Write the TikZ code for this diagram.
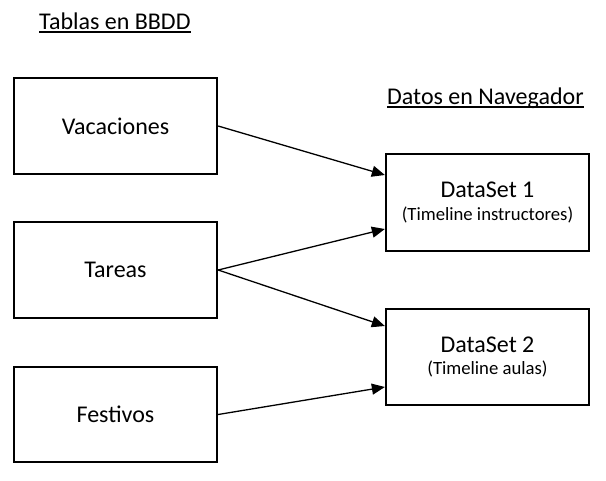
\documentclass[tikz,border=0pt]{standalone}
\usepackage{fontspec}
\setmainfont{Carlito}
\usetikzlibrary{arrows.meta,calc}
\newcommand\myul[1]{\setbox0\hbox{#1}\rlap{\rule[-3.5pt]{\wd0}{1.3pt}}\box0}
\begin{document}
\begin{tikzpicture}[x=1pt,y=-1pt,
  tbl/.style={draw=black,line width=2.3pt,minimum width=203pt,inner sep=0pt,align=center,font=\fontsize{24}{24}\selectfont},
  conn/.style={line width=1.3pt,-{Triangle[length=13pt,width=11pt]}},
  ttl/.style={font=\fontsize{24}{24}\selectfont,inner sep=0pt,anchor=base west}]
\useasboundingbox (0,0) rectangle (606,480);
\node[ttl] (t1) at (39,29) {\myul{Tablas en BBDD}};
\node[ttl] (t2) at (387,104) {\myul{Datos en Navegador}};
\node[tbl,minimum height=96pt] (vac) at (115.5,126) {Vacaciones};
\node[tbl,minimum height=96pt] (tar) at (115.5,270) {Tareas};
\node[tbl,minimum height=95pt] (fes) at (115.5,414.5) {Festivos};
\node[tbl,minimum height=97pt] (d1) at (487.5,202.5) {DataSet 1\\[-1pt]{\fontsize{18.7}{20}\selectfont (Timeline instructores)}};
\node[tbl,minimum height=96pt] (d2) at (487.5,357) {DataSet 2\\[-2pt]{\fontsize{18.7}{20}\selectfont (Timeline aulas)}};
\draw[conn] (vac.east) -- ($(d1.west)+(0,-27.5)$);
\draw[conn] (tar.east) -- ($(d1.west)+(0,26.5)$);
\draw[conn] (tar.east) -- ($(d2.west)+(0,-31)$);
\draw[conn] (fes.east) -- ($(d2.west)+(0,30)$);
\end{tikzpicture}
\end{document}
